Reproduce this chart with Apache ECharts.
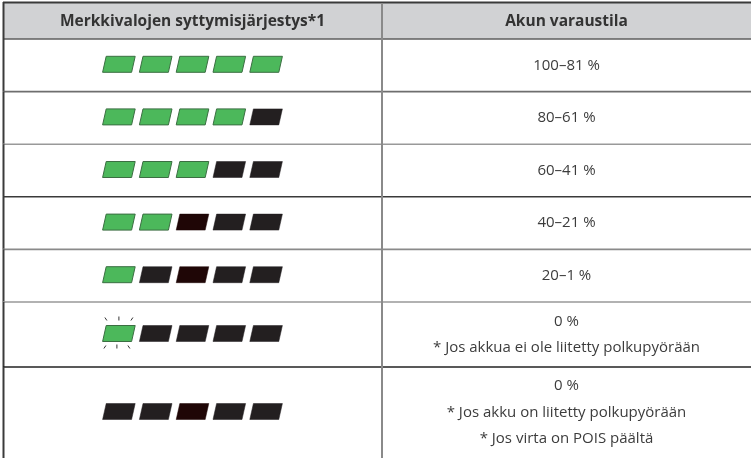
<!DOCTYPE html>
<html><head><meta charset="utf-8">
<script src="https://cdn.jsdelivr.net/npm/echarts@6/dist/echarts.min.js"></script>
<style>html,body{margin:0;padding:0;background:#fff}#c{width:751px;height:458px}</style>
</head><body><div id="c"></div>
<script>
// ---- DATA ----
const headers = ['Merkkivalojen syttymisjärjestys*1', 'Akun varaustila'];
// g = green (lit), f = green flashing, k = off (black), r = off (dark red)
const lampStates = [
  ['g','g','g','g','g'],
  ['g','g','g','g','k'],
  ['g','g','g','k','k'],
  ['g','g','r','k','k'],
  ['g','k','r','k','k'],
  ['f','k','k','k','k'],
  ['k','k','r','k','k']
];
const chargeLabels = ['100–81 %', '80–61 %', '60–41 %', '40–21 %', '20–1 %', '0 %', '0 %'];
const notes = [
  [], [], [], [], [],
  ['* Jos akkua ei ole liitetty polkupyörään'],
  ['* Jos akku on liitetty polkupyörään', '* Jos virta on POIS päältä']
];

// ---- LAYOUT / STYLE ----
const W = 751, H = 458;
const layout = {
  tableTop: 3, headerH: 36, left: 3, right: 751, divX: 382,
  rowH: {1: 52.6, 2: 65, 3: 91},
  textLineH: 26.5,
  lampW: 29, lampH: 16, lampSlant: 3.6, lampPitch: 36.8,
  lineColors: ['#6e6e6e', '#999999', '#3a3a3a', '#8a8a8a', '#999999', '#222222']
};
const colors = { g: '#4cb85b', f: '#4cb85b', k: '#231f20', r: '#1f0606', header: '#d1d2d4' };
const fontFam = '"Open Sans", "Noto Sans", sans-serif';

// row boundaries derived from number of text lines per row
const rowTops = [];
let yy = layout.tableTop + layout.headerH;
for (let i = 0; i < chargeLabels.length; i++) {
  rowTops.push(yy);
  yy += layout.rowH[1 + notes[i].length];
}
rowTops.push(yy);

const chart = echarts.init(document.getElementById('c'), null, {renderer: 'canvas'});

function renderHeader(params, api) {
  const p0 = api.coord([layout.left, layout.tableTop]);
  const p1 = api.coord([layout.right, layout.tableTop + layout.headerH]);
  const div = api.coord([layout.divX, 0])[0];
  const cy = (p0[1] + p1[1]) / 2 + 0.5;
  const c1 = (p0[0] + div) / 2, c2 = (div + p1[0]) / 2;
  return {
    type: 'group',
    children: [
      {type: 'rect', shape: {x: p0[0], y: p0[1], width: p1[0] - p0[0], height: p1[1] - p0[1]}, style: {fill: colors.header}},
      {type: 'line', shape: {x1: p0[0], y1: p0[1] - 0.5, x2: p1[0], y2: p0[1] - 0.5}, style: {stroke: '#3a3a3a', lineWidth: 2}},
      {type: 'line', shape: {x1: p0[0], y1: p1[1], x2: p1[0], y2: p1[1]}, style: {stroke: '#5e5e5e', lineWidth: 1.6}},
      {type: 'text', style: {text: headers[0], x: c1, y: cy, align: 'center', verticalAlign: 'middle', font: 'bold 15.5px ' + fontFam, fill: '#333333'}},
      {type: 'text', style: {text: headers[1], x: c2, y: cy, align: 'center', verticalAlign: 'middle', font: 'bold 15.5px ' + fontFam, fill: '#333333'}}
    ]
  };
}

function renderRow(params, api) {
  const i = params.dataIndex;
  const top = api.coord([0, rowTops[i]])[1];
  const bot = api.coord([0, rowTops[i + 1]])[1];
  const xl = api.coord([layout.left, 0])[0];
  const xr = api.coord([layout.right, 0])[0];
  const div = api.coord([layout.divX, 0])[0];
  const cy = (top + bot) / 2;
  const c1 = (xl + div) / 2, c2 = (div + xr) / 2;
  const children = [];
  children.push({type: 'line', shape: {x1: xl + 0.5, y1: top, x2: xl + 0.5, y2: bot}, style: {stroke: '#3a3a3a', lineWidth: 2}});
  if (i < chargeLabels.length - 1) {
    children.push({type: 'line', shape: {x1: xl, y1: bot, x2: xr, y2: bot}, style: {stroke: layout.lineColors[i], lineWidth: 1.6}});
  }
  const states = lampStates[i];
  const n = states.length;
  const totalW = (n - 1) * layout.lampPitch + layout.lampW + layout.lampSlant;
  const x0 = c1 - totalW / 2;
  const ly = cy - 1;
  const t = ly - layout.lampH / 2, b = ly + layout.lampH / 2;
  states.forEach((s, k) => {
    const bl = x0 + k * layout.lampPitch;
    const pts = [[bl + layout.lampSlant, t], [bl + layout.lampSlant + layout.lampW, t], [bl + layout.lampW, b], [bl, b]];
    const green = (s === 'g' || s === 'f');
    children.push({type: 'polygon', shape: {points: pts}, style: {fill: colors[s], stroke: green ? '#3b6e42' : colors[s], lineWidth: green ? 1 : 0.5}});
    if (s === 'f') {
      const cx = bl + layout.lampSlant / 2 + layout.lampW / 2;
      const rs = {stroke: '#333', lineWidth: 1};
      children.push({type: 'line', shape: {x1: cx - 14, y1: t - 8, x2: cx - 12, y2: t - 5}, style: rs});
      children.push({type: 'line', shape: {x1: cx, y1: t - 9, x2: cx, y2: t - 5}, style: rs});
      children.push({type: 'line', shape: {x1: cx + 14, y1: t - 8, x2: cx + 12, y2: t - 5}, style: rs});
      children.push({type: 'line', shape: {x1: cx - 15, y1: b + 7, x2: cx - 13, y2: b + 4}, style: rs});
      children.push({type: 'line', shape: {x1: cx - 2, y1: b + 7, x2: cx - 2, y2: b + 3}, style: rs});
      children.push({type: 'line', shape: {x1: cx + 11, y1: b + 7, x2: cx + 9, y2: b + 4}, style: rs});
    }
  });
  const lines = [chargeLabels[i]].concat(notes[i]);
  const ty0 = cy - (lines.length - 1) * layout.textLineH / 2;
  lines.forEach((s, k) => {
    children.push({type: 'text', style: {text: s, x: c2, y: ty0 + k * layout.textLineH, align: 'center', verticalAlign: 'middle', font: '15px ' + fontFam, fill: '#3c3c3c'}});
  });
  return {type: 'group', children};
}

function renderDivider(params, api) {
  const d = api.coord([layout.divX, 0])[0];
  const t = api.coord([0, layout.tableTop])[1];
  const b = api.coord([0, H])[1];
  const lt = api.coord([layout.left, 0])[0];
  return {type: 'group', children: [
    {type: 'line', shape: {x1: d, y1: t, x2: d, y2: b}, style: {stroke: '#8a8a8a', lineWidth: 2}},
    {type: 'line', shape: {x1: lt + 0.5, y1: t - 1, x2: lt + 0.5, y2: t + layout.headerH}, style: {stroke: '#3a3a3a', lineWidth: 2}}
  ]};
}

chart.setOption({
  animation: false,
  grid: {left: 0, right: 0, top: 0, bottom: 0},
  xAxis: {type: 'value', min: 0, max: W, show: false},
  yAxis: {type: 'value', min: 0, max: H, inverse: true, show: false},
  series: [
    {type: 'custom', renderItem: renderHeader, data: [0], clip: false, silent: true},
    {type: 'custom', renderItem: renderRow, data: chargeLabels.map((_, i) => i), clip: false, silent: true},
    {type: 'custom', renderItem: renderDivider, data: [0], clip: false, silent: true, z: 5}
  ]
});
</script>
</body></html>
